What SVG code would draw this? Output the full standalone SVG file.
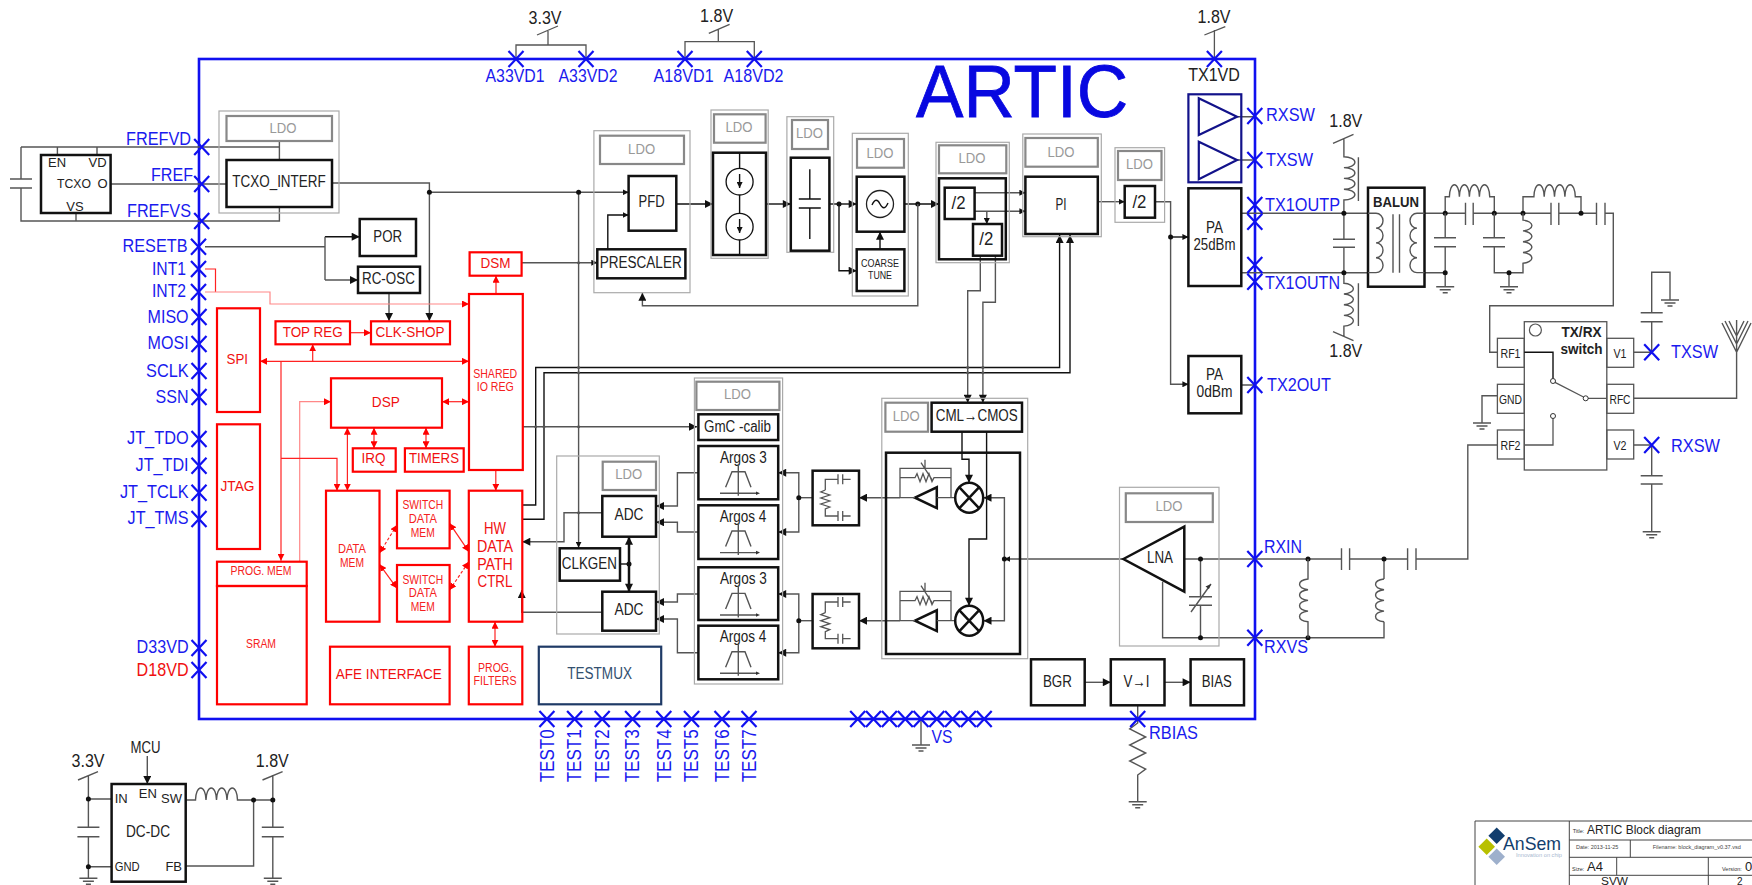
<svg xmlns="http://www.w3.org/2000/svg" width="1752" height="885" viewBox="0 0 1752 885">
<style>
text{font-family:"Liberation Sans",Arial,sans-serif}
.m{text-anchor:middle}.e{text-anchor:end}
.bl{fill:#1a1aee;font-size:18.5px}
.bt{fill:#1a1aee;font-size:21px}
.k{fill:#222;font-size:16px}
.k2{fill:#222;font-size:18px}
.ks{fill:#222;font-size:13px}
.ld{fill:#999;font-size:15.5px}
.r15{fill:#f01010;font-size:15.500px}
.r12{fill:#f52020;font-size:12.500px}
.r17{fill:#f01010;font-size:17px}
.b,.g,.l,.r,.s,.c,.ck,.rl,.rp{fill:none}
.b{stroke:#111;stroke-width:2.5}
.g{stroke:#aaa;stroke-width:1.2}
.l{stroke:#888;stroke-width:2.2}
.r{stroke:#f00;stroke-width:2.2}
.s{stroke:#555;stroke-width:1.3}
.c{stroke:#555;stroke-width:1.4}
.ck{stroke:#111;stroke-width:1.4}
.rl{stroke:#f22;stroke-width:1.2}
.rp{stroke:#f88;stroke-width:1.2}
.x{stroke:#1010f0;stroke-width:2.2;fill:none}
.d{fill:#111}
.tb{stroke:#444;stroke-width:1;fill:none}
</style>
<defs>
<marker id="a" viewBox="0 0 10 10" refX="10" refY="5" markerWidth="9" markerHeight="8" markerUnits="userSpaceOnUse" orient="auto-start-reverse"><path d="M0,0L10,5L0,10z" fill="#111"/></marker>
<marker id="as" viewBox="0 0 10 10" refX="10" refY="5" markerWidth="6" markerHeight="6" markerUnits="userSpaceOnUse" orient="auto-start-reverse"><path d="M0,0L10,5L0,10z" fill="#111"/></marker>
<marker id="ar" viewBox="0 0 10 10" refX="10" refY="5" markerWidth="7" markerHeight="7" markerUnits="userSpaceOnUse" orient="auto-start-reverse"><path d="M0,0L10,5L0,10z" fill="#f00"/></marker>
<g id="x"><path class="x" d="M-7.5,-8L7.5,8M-7.5,8L7.5,-8"/></g>
<g id="gnd"><path class="c" d="M-9,0H9M-5.5,3H5.5M-2.5,6H2.5"/></g>
<g id="filt"><path class="c" d="M720,493.3H756M738.3,464V495.7M725.6,487.3L732,471.7H745L751,487.3" stroke-width="1.2"/><path d="M756,491.5L760,493.3L756,495.1z" fill="#333"/></g>
<g id="rcnet"><path class="s" d="M838,479.3H825.3V490M838,474.3V484.3M842.7,474.3V484.3M842.7,479.3H850.6M825.3,490l-4.500,2 9,3 -9,3 9,3 -9,3 9,3 -4.500,2V516H838M838,511V521M842.7,511V521M842.7,516H850.6"/></g>
<g id="mix"><ellipse cx="0" cy="0" rx="14" ry="15" fill="none" stroke="#111" stroke-width="2.500"/><path class="b" d="M-10,-10.600L10,10.600M-10,10.600L10,-10.600" stroke-width="2"/></g>
<g id="vres"><path class="s" d="M900,0V-29.400H951V0M900,-20H915l2,-4 3,8 3,-8 3,8 3,-8 3,8 2,-4H951M921,-35L932,-18M925,-30V-38"/><path class="b" d="M915,0L936.800,-10.400V10.400Z"/><path class="s" d="M900,0H915M936.800,0H955"/></g>
</defs>

<g id="frame"><rect x="199" y="59" width="1056" height="660" fill="none" stroke="#1010f0" stroke-width="2.600"/></g>

<g id="connectors">
<path class="c" d="M279.400,141V160M21,147H279.400M57.400,147V155M97,147V155M21,147V179M21,188V221H279.400V207M76,213V221M10,179H32M10,188H32M110.600,184H226.500"/>
<path class="c" d="M332,183H429.400V321" marker-end="url(#a)"/>
<path class="c" d="M429.400,192.300H628.600" marker-end="url(#as)"/>
<path class="c" d="M578.600,192.300V547.700" marker-end="url(#as)"/>
<circle class="d" cx="429.400" cy="192.300" r="2.500"/><circle class="d" cx="578.600" cy="192.300" r="2.500"/>
<path class="c" d="M205,246.700H325"/>
<path class="ck" d="M325,236.700H359.700" marker-end="url(#a)"/><path class="c" d="M325,236.700V280"/><path class="c" d="M325,280H358" marker-end="url(#a)"/>
<path class="c" d="M389,293V321" marker-end="url(#a)"/>
<path class="c" d="M521.600,262.700H597.300" marker-end="url(#as)"/>
<path class="rl" d="M205,269H215.500V292"/>
<path class="rp" d="M205,292H270V304H469" marker-end="url(#ar)"/>
<path class="rl" d="M496,294V275.700" marker-end="url(#ar)"/>
<path class="rl" d="M350,332.700H371" marker-end="url(#ar)"/>
<path class="rl" d="M260,361.300H469" marker-start="url(#ar)" marker-end="url(#ar)"/>
<path class="rl" d="M312.700,361.300V344.300" marker-end="url(#ar)"/>
<path class="rl" d="M281,361.300V560.700" marker-end="url(#ar)"/>
<path class="rp" d="M299.700,561V401.700H331" marker-end="url(#ar)"/>
<path class="rl" d="M281,458.300H337V490.700" marker-end="url(#ar)"/>
<path class="rl" d="M347.400,427.700V490.700" marker-start="url(#ar)" marker-end="url(#ar)"/>
<path class="rl" d="M374,427.700V448.300" marker-start="url(#ar)" marker-end="url(#ar)"/>
<path class="rl" d="M426,427.700V448.300" marker-start="url(#ar)" marker-end="url(#ar)"/>
<path class="rl" d="M442,401.700H469" marker-start="url(#ar)" marker-end="url(#ar)"/>
<path class="rl" d="M495.800,470V490.700" marker-end="url(#ar)"/>
<path class="rl" d="M495,621.700V646.700" marker-start="url(#ar)" marker-end="url(#ar)"/>
<path class="rl" d="M379.500,553L397,525" stroke-dasharray="3 2" marker-start="url(#ar)" marker-end="url(#ar)"/>
<path class="rl" d="M379.500,564.300L397,588.300" marker-start="url(#ar)" marker-end="url(#ar)"/>
<path class="rl" d="M449.600,523.300L468.800,551.700" marker-start="url(#ar)" marker-end="url(#ar)"/>
<path class="rl" d="M449.600,590L468.800,561.700" stroke-dasharray="3 2" marker-start="url(#ar)" marker-end="url(#ar)"/>
<path class="ck" d="M522.300,505H535.700V367.500H1059.600V235" marker-end="url(#a)"/>
<path class="ck" d="M522.300,519.300H544V372.700H1070V235" marker-end="url(#a)"/>
<path class="c" d="M522.800,426.700H697" marker-end="url(#a)"/>
<path class="c" d="M602.300,512.700H564V541.700H522.300" marker-end="url(#a)"/>
<path class="c" d="M602.300,612.300H521.700V590" marker-end="url(#a)"/>
<path class="b" d="M629,536.700V591.700" stroke-width="1.800" marker-start="url(#a)" marker-end="url(#a)"/><path class="ck" d="M620,564H629"/><circle class="d" cx="629" cy="564" r="2.500"/>
<path class="c" d="M698.400,472.700H677.400V506H656" stroke-width="1.800" marker-end="url(#a)"/>
<path class="c" d="M698.400,532H677.400V522.300H656" marker-end="url(#a)"/>
<path class="c" d="M698.400,594H677.400V602H656" marker-end="url(#a)"/>
<path class="c" d="M698.400,652.700H677.400V619H656" marker-end="url(#a)"/>
<path class="c" d="M812.600,497.700H798.800"/><path class="c" d="M798.800,497.700V472.700H778.200" marker-end="url(#a)"/><path class="c" d="M798.800,497.700V532H778.200" marker-end="url(#a)"/><circle class="d" cx="798.800" cy="497.700" r="2.500"/>
<path class="c" d="M812.600,620.700H798.800"/><path class="c" d="M798.800,620.700V594H778.200" marker-end="url(#a)"/><path class="c" d="M798.800,620.700V652.700H778.200" marker-end="url(#a)"/><circle class="d" cx="798.800" cy="620.700" r="2.500"/>
<path class="c" d="M900,497.700H859" marker-end="url(#a)"/><path class="c" d="M900,620.700H859" marker-end="url(#a)"/>
<path class="ck" d="M962,431.700V459.300H969V482.700" marker-end="url(#a)"/>
<path class="ck" d="M986.600,431.700V539H969V605.700" marker-end="url(#a)"/>
<path class="c" d="M1123.400,559H1004.400" marker-end="url(#as)"/>
<path class="c" d="M1004.400,559V497.700H983.500" marker-end="url(#a)"/><path class="c" d="M1004.400,559V620.700H983.500" marker-end="url(#a)"/><circle class="d" cx="1004.400" cy="559" r="2.500"/>
<path class="ck" d="M607.800,249.300V215H628.600" marker-end="url(#as)"/>
<path class="ck" d="M676.300,204H713" marker-end="url(#a)"/>
<path class="ck" d="M766,204H790.800" marker-end="url(#a)"/>
<path class="ck" d="M829.400,204H856.700" marker-end="url(#a)"/>
<path class="ck" d="M839,204V270.700H856.700" marker-end="url(#a)"/><circle class="d" cx="839" cy="204" r="2.500"/>
<path class="ck" d="M880,249.300V231.700" marker-end="url(#a)"/>
<path class="ck" d="M904.400,204H939" marker-end="url(#a)"/><circle class="d" cx="917.800" cy="204" r="2.500"/>
<path class="c" d="M917.800,204V305.700H642.400V292.700" marker-end="url(#a)"/>
<path class="c" d="M974.600,192.700H1025.400" marker-end="url(#as)"/>
<path class="c" d="M974.600,211.300H1025.400" marker-end="url(#as)"/>
<path class="c" d="M986.800,211.300V224" marker-end="url(#as)"/>
<path class="c" d="M1097.800,201.700H1124.700" marker-end="url(#as)"/>
<path class="c" d="M980.300,255.700V290.700H967.700V402.700" marker-end="url(#a)"/>
<path class="c" d="M995.400,255.700V302.300H982.900V402.700" marker-end="url(#a)"/>
<path class="c" d="M1155,201.700H1170.600V384.300H1188.400" marker-end="url(#as)"/>
<path class="ck" d="M1170.600,237H1188.400" marker-end="url(#as)"/><circle class="d" cx="1170.600" cy="237" r="2.500"/>
<path class="c" d="M1237,116.700H1255M1237,160H1255M1241.300,213.300H1368M1241.300,272.700H1368M1241.300,385H1255"/>
<g fill="#555"><circle cx="578.600" cy="367.500" r="1.500"/><circle cx="578.600" cy="372.700" r="1.500"/><circle cx="578.600" cy="426.700" r="1.500"/><circle cx="535.700" cy="426.700" r="1.500"/><circle cx="544" cy="426.700" r="1.500"/><circle cx="578.600" cy="512.700" r="1.500"/><circle cx="967.700" cy="367.500" r="1.500"/><circle cx="982.900" cy="367.500" r="1.500"/><circle cx="967.700" cy="372.700" r="1.500"/><circle cx="982.900" cy="372.700" r="1.500"/><circle cx="578.600" cy="262.700" r="1.500"/></g>
<path class="c" d="M1184.300,559H1341.500M1349.600,559H1407.600M1416,559H1467.800V445H1497.400M1200.500,559V596.700M1200.500,605.300V637.700M1162.600,581.700V637.700H1384V621.700M1189,596.700H1212M1189,605.300H1212M1191,612L1211,584M1384,559V579M1341.500,548.300V570M1349.600,548.300V570M1407.600,548.300V570M1416,548.300V570"/>
<path d="M1211,584l-5.500,2.500 3.500,2.500z" fill="#333"/>
<circle class="d" cx="1200.500" cy="559" r="2.500"/><circle class="d" cx="1200.500" cy="637.700" r="2.500"/><circle class="d" cx="1308" cy="559" r="2.500"/><circle class="d" cx="1384" cy="559" r="2.500"/><circle class="d" cx="1308" cy="637.700" r="2.500"/>
<path class="c" d="M1308,559V579a11,5.500 0 0 0 0,10.700a11,5.500 0 0 0 0,10.700a11,5.500 0 0 0 0,10.700a11,5.500 0 0 0 0,10.700V637.700"/>
<path class="c" d="M1384,579a11,5.500 0 0 0 0,10.700a11,5.500 0 0 0 0,10.700a11,5.500 0 0 0 0,10.700a11,5.500 0 0 0 0,10.700"/>
<path class="c" d="M1084.700,682.300H1110.800" marker-end="url(#a)"/><path class="c" d="M1164.500,682.300H1190.600" marker-end="url(#a)"/>
<path class="c" d="M1137.700,705.300V723l-8,6 16,8 -16,8 16,8 -16,8 16,8 -8,6V801.700"/>
<use href="#gnd" x="1137.700" y="801.700"/>
<path class="c" d="M921,719V745"/><use href="#gnd" x="921" y="745"/>
<path class="c" d="M1343.900,213.300V200a11,5.400 0 0 0 0,-10.800a11,5.400 0 0 0 0,-10.800a11,5.400 0 0 0 0,-10.800a11,5.400 0 0 0 0,-10.800V139M1333,143.300L1353.500,134.300M1358.400,157.300V201M1343.900,272.700V283.300a11,5.400 0 0 1 0,10.700a11,5.400 0 0 1 0,10.700a11,5.400 0 0 1 0,10.700a11,5.400 0 0 1 0,10.700V336M1333,331.700L1353.500,340.700M1358.400,283.300V326M1343.900,213.300V239.300M1343.900,247.300V272.700M1333,239.300H1355M1333,247.300H1355"/>
<circle class="d" cx="1343.900" cy="213.300" r="2.500"/><circle class="d" cx="1343.900" cy="272.700" r="2.500"/>
<path class="c" d="M1424.500,213.300H1465.500M1473.200,213.300H1551M1558.800,213.300H1596.500M1605,213.300H1613.300V305.700H1489.700V352.300H1497.400M1465.500,202.700V225M1473.200,202.700V225M1551,202.700V225M1558.800,202.700V225M1596.500,202.700V225M1605,202.700V225"/>
<path class="c" d="M1445.200,213.300V196.700H1449.400a5,12 0 0 1 10,0a5,12 0 0 1 10,0a5,12 0 0 1 10,0a5.150,12 0 0 1 10.300,0H1494.300V213.300"/>
<path class="c" d="M1523,213.300V196.700H1533.900a5.150,12 0 0 1 10.300,0a5.150,12 0 0 1 10.300,0a5.200,12 0 0 1 10.400,0a5.200,12 0 0 1 10.400,0H1581V213.300"/>
<circle class="d" cx="1445.200" cy="213.300" r="2.500"/><circle class="d" cx="1494.300" cy="213.300" r="2.500"/><circle class="d" cx="1523" cy="213.300" r="2.500"/><circle class="d" cx="1581" cy="213.300" r="2.500"/>
<path class="c" d="M1445.200,213.300V237.700M1445.200,246.700V286.700M1434,237.700H1456M1434,246.700H1456M1424.500,272.700H1445.200"/>
<circle class="d" cx="1445.200" cy="272.700" r="2.500"/><use href="#gnd" x="1445.200" y="286.700"/>
<path class="c" d="M1494.300,213.300V237.700M1494.300,246.700V272.700H1523V263.300a11,5.500 0 0 0 0,-10.800a11,5.500 0 0 0 0,-10.800a11,5.500 0 0 0 0,-10.800a11,5.500 0 0 0 0,-10.800V213.300M1483,237.700H1505M1483,246.700H1505M1509,272.700V286.700"/>
<circle class="d" cx="1509" cy="272.700" r="2.500"/><use href="#gnd" x="1509" y="286.700"/>
<path class="c" d="M1633.700,398.300H1736.600V320M1736.600,352.300L1722,323M1736.600,352.300L1751,323M1736.600,344L1725,321M1736.600,344L1748,321M1736.600,336L1729,321M1736.600,336L1744,321"/>
<path class="c" d="M1497.400,395.700H1482V423"/><use href="#gnd" x="1482" y="423"/>
<path class="c" d="M1633.700,352.300H1651.700V321.700M1651.700,312.700V272.300H1670V300M1640.700,312.700H1662.700M1640.700,321.700H1662.700"/><use href="#gnd" x="1670" y="300"/>
<path class="c" d="M1633.700,445H1651.700V475.700M1651.700,484V531.700M1640.700,475.700H1662.700M1640.700,484H1662.700"/><use href="#gnd" x="1651.700" y="531.700"/>
<path class="c" d="M147.300,756V784" marker-end="url(#a)"/>
<path class="c" d="M78,780L98,771.700M88.400,775V827.300M88.400,836.700V878.300M77.400,827.300H99.400M77.400,836.700H99.400M88.400,799H111.600M88.400,866.700H111.600"/>
<circle class="d" cx="88.400" cy="799" r="2.500"/><circle class="d" cx="88.400" cy="866.700" r="2.500"/><use href="#gnd" x="88.400" y="878.300"/>
<path class="c" d="M185.700,800H195.500a5.250,12 0 0 1 10.500,0a5.250,12 0 0 1 10.500,0a5.250,12 0 0 1 10.500,0a5.250,12 0 0 1 10.500,0H272.800M185.700,866H253.600V800M262.500,780L282.600,771.700M272.800,775V827.300M272.800,836.700V878.300M261.800,827.300H283.800M261.800,836.700H283.800"/>
<circle class="d" cx="253.600" cy="800" r="2.500"/><circle class="d" cx="272.800" cy="800" r="2.500"/><use href="#gnd" x="272.800" y="878.300"/>
<path class="s" d="M537,35L558,26M548,31V45M516,59V45H586V59"/>
<path class="s" d="M708.800,33.300L729.600,24.300M718.300,29V41.700M685,59V41.700H754.300V59"/>
<path class="s" d="M1204.400,35L1225.300,26.700M1214.400,30V59"/>
</g>

<g id="pins">
<use href="#x" x="516" y="59"/><use href="#x" x="586" y="59"/><use href="#x" x="685" y="59"/><use href="#x" x="754.300" y="59"/><use href="#x" x="1214.400" y="59"/>
<use href="#x" x="201.700" y="147"/><use href="#x" x="201.700" y="184"/><use href="#x" x="201.700" y="221"/>
<use href="#x" x="198.500" y="246.700"/><use href="#x" x="198.500" y="269"/><use href="#x" x="198.500" y="292"/><use href="#x" x="199" y="317"/><use href="#x" x="199" y="344"/><use href="#x" x="199" y="371"/><use href="#x" x="199" y="397"/><use href="#x" x="199" y="439"/><use href="#x" x="199" y="465.700"/><use href="#x" x="199" y="492.700"/><use href="#x" x="199" y="519"/><use href="#x" x="199" y="648"/><use href="#x" x="199" y="670"/>
<use href="#x" x="1254.800" y="116"/><use href="#x" x="1254.800" y="160"/><use href="#x" x="1254.800" y="205"/><use href="#x" x="1254.800" y="221.700"/><use href="#x" x="1254.800" y="265"/><use href="#x" x="1254.800" y="281.700"/><use href="#x" x="1254.800" y="385"/><use href="#x" x="1254.800" y="559"/><use href="#x" x="1254.800" y="637.700"/>
<use href="#x" x="546.900" y="719"/><use href="#x" x="574.600" y="719"/><use href="#x" x="602.200" y="719"/><use href="#x" x="632.600" y="719"/><use href="#x" x="663.800" y="719"/><use href="#x" x="691.500" y="719"/><use href="#x" x="722" y="719"/><use href="#x" x="749" y="719"/>
<use href="#x" x="857.700" y="719"/><use href="#x" x="873.500" y="719"/><use href="#x" x="889.400" y="719"/><use href="#x" x="905.300" y="719"/><use href="#x" x="921" y="719"/><use href="#x" x="936.800" y="719"/><use href="#x" x="952.600" y="719"/><use href="#x" x="968.400" y="719"/><use href="#x" x="984.200" y="719"/>
<use href="#x" x="1137.700" y="719"/><use href="#x" x="1651.700" y="352.300"/><use href="#x" x="1651.700" y="445"/>
<text class="bl m" x="515" y="82" textLength="59" lengthAdjust="spacingAndGlyphs">A33VD1</text>
<text class="bl m" x="588" y="82" textLength="59" lengthAdjust="spacingAndGlyphs">A33VD2</text>
<text class="bl m" x="683.600" y="82" textLength="60" lengthAdjust="spacingAndGlyphs">A18VD1</text>
<text class="bl m" x="753.500" y="82" textLength="60" lengthAdjust="spacingAndGlyphs">A18VD2</text>
<text class="bl e" x="191" y="145" textLength="65" lengthAdjust="spacingAndGlyphs">FREFVD</text>
<text class="bl e" x="193" y="181" textLength="42" lengthAdjust="spacingAndGlyphs">FREF</text>
<text class="bl e" x="191" y="217" textLength="64" lengthAdjust="spacingAndGlyphs">FREFVS</text>
<text class="bl e" x="187.500" y="251.700" textLength="65" lengthAdjust="spacingAndGlyphs">RESETB</text>
<text class="bl e" x="186" y="275" textLength="34" lengthAdjust="spacingAndGlyphs">INT1</text>
<text class="bl e" x="186" y="297" textLength="34" lengthAdjust="spacingAndGlyphs">INT2</text>
<text class="bl e" x="188.600" y="322.700" textLength="41" lengthAdjust="spacingAndGlyphs">MISO</text>
<text class="bl e" x="188.600" y="349" textLength="41" lengthAdjust="spacingAndGlyphs">MOSI</text>
<text class="bl e" x="188.600" y="376.700" textLength="42.500" lengthAdjust="spacingAndGlyphs">SCLK</text>
<text class="bl e" x="188.600" y="403" textLength="33" lengthAdjust="spacingAndGlyphs">SSN</text>
<text class="bl e" x="188.600" y="444" textLength="61.600" lengthAdjust="spacingAndGlyphs">JT_TDO</text>
<text class="bl e" x="188.600" y="470.700" textLength="53" lengthAdjust="spacingAndGlyphs">JT_TDI</text>
<text class="bl e" x="188.600" y="497.700" textLength="68.700" lengthAdjust="spacingAndGlyphs">JT_TCLK</text>
<text class="bl e" x="188.600" y="524" textLength="61" lengthAdjust="spacingAndGlyphs">JT_TMS</text>
<text class="bl e" x="188.600" y="653" textLength="52" lengthAdjust="spacingAndGlyphs">D33VD</text>
<text class="e" fill="#f01010" font-size="18.500" x="188.600" y="675.700" textLength="52" lengthAdjust="spacingAndGlyphs">D18VD</text>
<text class="bl" x="1266" y="121" textLength="49" lengthAdjust="spacingAndGlyphs">RXSW</text>
<text class="bl" x="1266" y="165.700" textLength="47" lengthAdjust="spacingAndGlyphs">TXSW</text>
<text class="bl" x="1265" y="210.700" textLength="75" lengthAdjust="spacingAndGlyphs">TX1OUTP</text>
<text class="bl" x="1265" y="289" textLength="75" lengthAdjust="spacingAndGlyphs">TX1OUTN</text>
<text class="bl" x="1267" y="390.700" textLength="64" lengthAdjust="spacingAndGlyphs">TX2OUT</text>
<text class="bl" x="1264" y="553" textLength="38" lengthAdjust="spacingAndGlyphs">RXIN</text>
<text class="bl" x="1264" y="653" textLength="44" lengthAdjust="spacingAndGlyphs">RXVS</text>
<text class="bl" x="1149" y="739.300" textLength="49" lengthAdjust="spacingAndGlyphs">RBIAS</text>
<text class="bl" x="931.600" y="743.300" textLength="21" lengthAdjust="spacingAndGlyphs">VS</text>
<text class="bl" x="1671" y="358.300" textLength="47" lengthAdjust="spacingAndGlyphs">TXSW</text>
<text class="bl" x="1671" y="451.700" textLength="49" lengthAdjust="spacingAndGlyphs">RXSW</text>
<text class="bt" transform="translate(553.600,782.300) rotate(-90)" textLength="53" lengthAdjust="spacingAndGlyphs">TEST0</text>
<text class="bt" transform="translate(581.300,782.300) rotate(-90)" textLength="53" lengthAdjust="spacingAndGlyphs">TEST1</text>
<text class="bt" transform="translate(608.900,782.300) rotate(-90)" textLength="53" lengthAdjust="spacingAndGlyphs">TEST2</text>
<text class="bt" transform="translate(639.300,782.300) rotate(-90)" textLength="53" lengthAdjust="spacingAndGlyphs">TEST3</text>
<text class="bt" transform="translate(670.500,782.300) rotate(-90)" textLength="53" lengthAdjust="spacingAndGlyphs">TEST4</text>
<text class="bt" transform="translate(698.200,782.300) rotate(-90)" textLength="53" lengthAdjust="spacingAndGlyphs">TEST5</text>
<text class="bt" transform="translate(728.700,782.300) rotate(-90)" textLength="53" lengthAdjust="spacingAndGlyphs">TEST6</text>
<text class="bt" transform="translate(755.700,782.300) rotate(-90)" textLength="53" lengthAdjust="spacingAndGlyphs">TEST7</text>
<text class="k2 m" x="545" y="24" textLength="33" lengthAdjust="spacingAndGlyphs">3.3V</text>
<text class="k2 m" x="716.600" y="21.700" textLength="33" lengthAdjust="spacingAndGlyphs">1.8V</text>
<text class="k2 m" x="1214" y="23.300" textLength="33" lengthAdjust="spacingAndGlyphs">1.8V</text>
<text class="k2 m" x="1345.800" y="126.700" textLength="33" lengthAdjust="spacingAndGlyphs">1.8V</text>
<text class="k2 m" x="1345.800" y="356.700" textLength="33" lengthAdjust="spacingAndGlyphs">1.8V</text>
<text class="k2 m" x="1214" y="81" textLength="51.600" lengthAdjust="spacingAndGlyphs">TX1VD</text>
<text x="916" y="116.700" fill="#0808e0" stroke="#0808e0" stroke-width="0.800" font-size="74" textLength="212" lengthAdjust="spacingAndGlyphs">ARTIC</text>
</g>

<g id="tcxo-chip"><rect class="b" x="41" y="155" width="69.600" height="58"/>
<text class="ks m" x="57" y="167">EN</text><text class="ks m" x="97.600" y="167">VD</text><text class="ks m" x="74" y="188" textLength="34" lengthAdjust="spacingAndGlyphs">TCXO</text><text class="ks m" x="102.600" y="188">O</text><text class="ks m" x="75" y="211">VS</text></g>

<g id="tcxo-interf"><rect class="g" x="219" y="111" width="120" height="102"/><rect class="l" x="226.500" y="116" width="105.500" height="25"/><text class="ld m" x="283" y="133.300" textLength="27" lengthAdjust="spacingAndGlyphs">LDO</text><rect class="b" x="226.500" y="160" width="105.500" height="47"/><text class="k m" x="279" y="187.300" textLength="93.400" lengthAdjust="spacingAndGlyphs">TCXO_INTERF</text></g>
<g id="por"><rect class="b" x="359.700" y="219" width="56.300" height="37"/><text class="k m" x="387.700" y="241.700" textLength="28.700" lengthAdjust="spacingAndGlyphs">POR</text></g>
<g id="rc-osc"><rect class="b" x="358" y="266.700" width="62" height="26.300"/><text class="k m" x="388.400" y="284" textLength="52.800" lengthAdjust="spacingAndGlyphs">RC-OSC</text></g>

<g id="dsm"><rect class="r" x="469.600" y="252.300" width="52" height="23.400"/><text class="r15 m" x="495.600" y="268" textLength="30" lengthAdjust="spacingAndGlyphs">DSM</text></g>
<g id="shared-io"><rect class="r" x="469" y="294" width="53.800" height="176"/><text class="r12 m" x="495.200" y="377.700" textLength="44" lengthAdjust="spacingAndGlyphs">SHARED</text><text class="r12 m" x="495.200" y="390.700" textLength="37" lengthAdjust="spacingAndGlyphs">IO REG</text></g>
<g id="spi"><rect class="r" x="217" y="308.300" width="43" height="103.700"/><text class="r15 m" x="237.300" y="364.300" textLength="21.500" lengthAdjust="spacingAndGlyphs">SPI</text></g>
<g id="top-reg"><rect class="r" x="275.500" y="321.300" width="74.500" height="23"/><text class="r15 m" x="312.700" y="336.700" textLength="60" lengthAdjust="spacingAndGlyphs">TOP REG</text></g>
<g id="clk-shop"><rect class="r" x="371" y="321.300" width="79" height="23"/><text class="r15 m" x="409.900" y="336.700" textLength="69" lengthAdjust="spacingAndGlyphs">CLK-SHOP</text></g>
<g id="dsp"><rect class="r" x="331" y="378.300" width="111" height="49.400"/><text class="r15 m" x="385.800" y="407.300" textLength="28" lengthAdjust="spacingAndGlyphs">DSP</text></g>
<g id="irq"><rect class="r" x="352.800" y="448.300" width="42.900" height="23.400"/><text class="r15 m" x="373.400" y="463.300" textLength="24" lengthAdjust="spacingAndGlyphs">IRQ</text></g>
<g id="timers"><rect class="r" x="404.900" y="448.300" width="58.800" height="23.400"/><text class="r15 m" x="434" y="463.300" textLength="50" lengthAdjust="spacingAndGlyphs">TIMERS</text></g>
<g id="jtag"><rect class="r" x="217" y="424.300" width="43" height="124.700"/><text class="r15 m" x="237.500" y="490.700" textLength="34" lengthAdjust="spacingAndGlyphs">JTAG</text></g>
<g id="data-mem"><rect class="r" x="326" y="490.700" width="53.500" height="131"/><text class="r12 m" x="352" y="553.300" textLength="28" lengthAdjust="spacingAndGlyphs">DATA</text><text class="r12 m" x="352" y="566.700" textLength="24" lengthAdjust="spacingAndGlyphs">MEM</text></g>
<g id="switch-1"><rect class="r" x="397" y="490.700" width="52.600" height="57.600"/><text class="r12 m" x="422.800" y="509.300" textLength="40.600" lengthAdjust="spacingAndGlyphs">SWITCH</text><text class="r12 m" x="422.800" y="522.700" textLength="28" lengthAdjust="spacingAndGlyphs">DATA</text><text class="r12 m" x="422.800" y="536.700" textLength="24" lengthAdjust="spacingAndGlyphs">MEM</text></g>
<g id="switch-2"><rect class="r" x="397" y="565" width="52.600" height="56.700"/><text class="r12 m" x="422.800" y="583.700" textLength="40.600" lengthAdjust="spacingAndGlyphs">SWITCH</text><text class="r12 m" x="422.800" y="597.300" textLength="28" lengthAdjust="spacingAndGlyphs">DATA</text><text class="r12 m" x="422.800" y="610.700" textLength="24" lengthAdjust="spacingAndGlyphs">MEM</text></g>
<g id="hw-ctrl"><rect class="r" x="468.800" y="490.700" width="53.500" height="131"/><text class="r17 m" x="495" y="534.300" textLength="22" lengthAdjust="spacingAndGlyphs">HW</text><text class="r17 m" x="495" y="552" textLength="36" lengthAdjust="spacingAndGlyphs">DATA</text><text class="r17 m" x="495" y="569.700" textLength="35.700" lengthAdjust="spacingAndGlyphs">PATH</text><text class="r17 m" x="495" y="587" textLength="35" lengthAdjust="spacingAndGlyphs">CTRL</text></g>
<g id="prog-filters"><rect class="r" x="468.800" y="646.700" width="53.500" height="57.600"/><text class="r12 m" x="495" y="671.700" textLength="34" lengthAdjust="spacingAndGlyphs">PROG.</text><text class="r12 m" x="495" y="685" textLength="43" lengthAdjust="spacingAndGlyphs">FILTERS</text></g>
<g id="afe"><rect class="r" x="330" y="646.700" width="119.600" height="57.600"/><text class="r15 m" x="388.800" y="679.300" textLength="106" lengthAdjust="spacingAndGlyphs">AFE INTERFACE</text></g>
<g id="prog-mem"><rect class="r" x="217" y="561.700" width="89.700" height="24.300"/><text class="r12 m" x="261" y="575" textLength="61" lengthAdjust="spacingAndGlyphs">PROG. MEM</text></g>
<g id="sram"><rect class="r" x="217" y="586" width="89.700" height="118.300"/><text class="r12 m" x="261" y="648.300" textLength="30" lengthAdjust="spacingAndGlyphs">SRAM</text></g>
<g id="testmux"><rect x="538.800" y="646.700" width="122.400" height="57.600" fill="none" stroke="#1f3a66" stroke-width="2.200"/><text class="m" fill="#33506f" font-size="16" x="599.600" y="679" textLength="64.700" lengthAdjust="spacingAndGlyphs">TESTMUX</text></g>

<g id="adc-block"><rect class="g" x="556.700" y="456" width="102.600" height="178"/><rect class="l" x="602.700" y="461.700" width="53.300" height="28.300"/><text class="ld m" x="628.700" y="479.300" textLength="27" lengthAdjust="spacingAndGlyphs">LDO</text>
<rect class="b" x="602.300" y="496" width="53.700" height="40.700"/><text class="k m" x="629" y="520" textLength="29" lengthAdjust="spacingAndGlyphs">ADC</text>
<rect class="b" x="602.300" y="591.700" width="53.700" height="39"/><text class="k m" x="629" y="615" textLength="29" lengthAdjust="spacingAndGlyphs">ADC</text>
<rect class="b" x="559.700" y="548.300" width="60.300" height="32.400"/><text class="k m" x="589.300" y="569" textLength="55" lengthAdjust="spacingAndGlyphs">CLKGEN</text></g>

<g id="filters"><rect class="g" x="694.400" y="378" width="88.200" height="306"/><rect class="l" x="696.400" y="381.700" width="83" height="28.300"/><text class="ld m" x="737.500" y="399.300" textLength="27" lengthAdjust="spacingAndGlyphs">LDO</text>
<rect class="b" x="698.400" y="414.300" width="79.800" height="25.700"/><text class="k m" x="737.500" y="431.700" textLength="67" lengthAdjust="spacingAndGlyphs">GmC -calib</text>
<rect class="b" x="698.400" y="446" width="79.800" height="53.300"/><text class="k m" x="743.400" y="462.700" textLength="46.700" lengthAdjust="spacingAndGlyphs">Argos 3</text><use href="#filt"/>
<rect class="b" x="698.400" y="505.300" width="79.800" height="53.700"/><text class="k m" x="743" y="522" textLength="46.700" lengthAdjust="spacingAndGlyphs">Argos 4</text><use href="#filt" y="59.300"/>
<rect class="b" x="698.400" y="567.300" width="79.800" height="52.700"/><text class="k m" x="743.400" y="584.300" textLength="46.700" lengthAdjust="spacingAndGlyphs">Argos 3</text><use href="#filt" y="121.700"/>
<rect class="b" x="698.400" y="625.700" width="79.800" height="53.600"/><text class="k m" x="743" y="642.300" textLength="46.700" lengthAdjust="spacingAndGlyphs">Argos 4</text><use href="#filt" y="180"/></g>

<g id="rc-net-1"><rect class="b" x="812.600" y="470.700" width="46.400" height="54.600"/><use href="#rcnet"/></g>
<g id="rc-net-2"><rect class="b" x="812.600" y="594" width="46.400" height="54.300"/><use href="#rcnet" y="122.700"/></g>

<g id="mixer-block"><rect class="g" x="881.800" y="398.300" width="145.900" height="260.400"/><rect class="l" x="885.400" y="402.700" width="42.600" height="29"/><text class="ld m" x="906.300" y="420.700" textLength="27" lengthAdjust="spacingAndGlyphs">LDO</text>
<rect class="b" x="931.600" y="402.700" width="90.400" height="29"/><text class="k m" x="976.700" y="421" textLength="82" lengthAdjust="spacingAndGlyphs">CML→CMOS</text>
<rect class="b" x="886" y="452.700" width="134" height="201.300"/>
<use href="#vres" y="497.700"/><use href="#vres" y="620.700"/><use href="#mix" x="969.200" y="497.700"/><use href="#mix" x="969.200" y="620.700"/></g>

<g id="lna-block"><rect class="g" x="1119.500" y="487.300" width="99.500" height="158.700"/><rect class="l" x="1125.800" y="493.300" width="87" height="28.700"/><text class="ld m" x="1169" y="511" textLength="27" lengthAdjust="spacingAndGlyphs">LDO</text>
<path class="b" d="M1123.400,559L1184.300,526.700V591.700Z"/><text class="k m" x="1160" y="563.300" textLength="26" lengthAdjust="spacingAndGlyphs">LNA</text></g>

<g id="bgr"><rect class="b" x="1031" y="659.300" width="53.700" height="46"/><text class="k m" x="1057.400" y="686.700" textLength="29" lengthAdjust="spacingAndGlyphs">BGR</text></g>
<g id="v-i"><rect class="b" x="1110.800" y="659.300" width="53.700" height="46"/><text class="k m" x="1136.500" y="686.700" textLength="26" lengthAdjust="spacingAndGlyphs">V→I</text></g>
<g id="bias"><rect class="b" x="1190.600" y="659.300" width="53.400" height="46"/><text class="k m" x="1216.700" y="686.700" textLength="30" lengthAdjust="spacingAndGlyphs">BIAS</text></g>

<g id="pfd-block"><rect class="g" x="593.900" y="130.700" width="96.100" height="162"/><rect class="l" x="600" y="135.700" width="84" height="28.300"/><text class="ld m" x="641.600" y="154.300" textLength="27" lengthAdjust="spacingAndGlyphs">LDO</text>
<rect class="b" x="628.600" y="176" width="47.700" height="54.700"/><text class="k m" x="651.600" y="207.300" textLength="26" lengthAdjust="spacingAndGlyphs">PFD</text>
<rect class="b" x="597.300" y="249.300" width="88.100" height="29"/><text class="k m" x="640.700" y="268.300" textLength="82" lengthAdjust="spacingAndGlyphs">PRESCALER</text></g>
<g id="charge-pump"><rect class="g" x="711" y="110" width="57.200" height="148.300"/><rect class="l" x="714" y="114.300" width="51.600" height="28.400"/><text class="ld m" x="739" y="131.700" textLength="27" lengthAdjust="spacingAndGlyphs">LDO</text>
<rect class="b" x="713" y="152.700" width="53" height="102.300"/><path class="ck" d="M739.600,152.700V168.400M739.600,195V213.400M739.600,240V255"/><path class="ck" d="M739.600,174V188" marker-end="url(#as)"/><path class="ck" d="M739.600,219V233" marker-end="url(#as)"/><ellipse cx="739.600" cy="181.700" rx="13.500" ry="13.300" fill="none" stroke="#111" stroke-width="1.300"/><ellipse cx="739.600" cy="226.700" rx="13.500" ry="13.300" fill="none" stroke="#111" stroke-width="1.300"/></g>
<g id="loop-filter"><rect class="g" x="786.900" y="116.700" width="46.800" height="135.600"/><rect class="l" x="792" y="120" width="36" height="29"/><text class="ld m" x="809.400" y="138.300" textLength="27" lengthAdjust="spacingAndGlyphs">LDO</text>
<rect class="b" x="790.800" y="157.700" width="38.600" height="93"/><path class="ck" d="M809.800,169.300V199M809.800,208V239M798.800,199H820.800M798.800,208H820.800"/></g>
<g id="vco"><rect class="g" x="852.300" y="133.300" width="56" height="162.700"/><rect class="l" x="857" y="139" width="47" height="28.700"/><text class="ld m" x="880" y="157.700" textLength="27" lengthAdjust="spacingAndGlyphs">LDO</text>
<rect class="b" x="856.700" y="176.700" width="47.700" height="55"/><circle cx="880" cy="204" r="13.500" fill="none" stroke="#222" stroke-width="1.300"/><path class="ck" d="M872,205q4,-9 8,-1t8,-1"/>
<rect class="b" x="856.700" y="249.300" width="47.700" height="41.700"/><text class="m" fill="#222" font-size="10.500" x="880" y="267.300" textLength="38" lengthAdjust="spacingAndGlyphs">COARSE</text><text class="m" fill="#222" font-size="10.500" x="880" y="278.700" textLength="24" lengthAdjust="spacingAndGlyphs">TUNE</text></g>
<g id="dividers"><rect class="g" x="936" y="142.300" width="73.300" height="120.400"/><rect class="l" x="939" y="145.300" width="67.300" height="28"/><text class="ld m" x="972" y="163.300" textLength="27" lengthAdjust="spacingAndGlyphs">LDO</text>
<rect class="b" x="939" y="178.300" width="66.800" height="81"/><rect class="b" x="944.700" y="187.700" width="29.900" height="31.300"/><text class="k2 m" x="958.600" y="209.300" textLength="14" lengthAdjust="spacingAndGlyphs">/2</text><rect class="b" x="973" y="224" width="29" height="31.700"/><text class="k2 m" x="986.300" y="245" textLength="14" lengthAdjust="spacingAndGlyphs">/2</text></g>
<g id="pi"><rect class="g" x="1022.800" y="134" width="78.500" height="102.700"/><rect class="l" x="1025.400" y="138" width="72.400" height="28.700"/><text class="ld m" x="1061" y="156.700" textLength="27" lengthAdjust="spacingAndGlyphs">LDO</text>
<rect class="b" x="1025.400" y="176.700" width="72.400" height="57.300"/><text class="k m" x="1061" y="210" textLength="11" lengthAdjust="spacingAndGlyphs">PI</text></g>
<g id="div-out"><rect class="g" x="1115" y="147.700" width="49.600" height="74.600"/><rect class="l" x="1118" y="151" width="43.500" height="29"/><text class="ld m" x="1139.400" y="169" textLength="27" lengthAdjust="spacingAndGlyphs">LDO</text>
<rect class="b" x="1124.700" y="186" width="30.300" height="31.700"/><text class="k2 m" x="1139.400" y="207.700" textLength="14" lengthAdjust="spacingAndGlyphs">/2</text></g>

<g id="switch-buffers"><rect x="1188.400" y="94.300" width="52.900" height="88" fill="none" stroke="#12128a" stroke-width="2.200"/><path d="M1198.800,98.300L1237,116.700L1198.800,135ZM1198.800,141.700L1237,160L1198.800,179.300Z" fill="none" stroke="#12128a" stroke-width="2.200"/></g>
<g id="pa-25"><rect class="b" x="1188.400" y="188.300" width="52.900" height="97.700"/><text class="k m" x="1214.500" y="232.700" textLength="17" lengthAdjust="spacingAndGlyphs">PA</text><text class="k m" x="1214.500" y="250" textLength="42" lengthAdjust="spacingAndGlyphs">25dBm</text></g>
<g id="pa-0"><rect class="b" x="1188.400" y="356" width="52.900" height="57.300"/><text class="k m" x="1214.500" y="380" textLength="17" lengthAdjust="spacingAndGlyphs">PA</text><text class="k m" x="1214.500" y="397.300" textLength="36" lengthAdjust="spacingAndGlyphs">0dBm</text></g>
<g id="balun"><rect class="b" x="1368" y="187.700" width="56.500" height="99"/><text class="m" fill="#222" font-size="14" font-weight="bold" x="1396" y="206.700" textLength="46" lengthAdjust="spacingAndGlyphs">BALUN</text>
<path class="c" d="M1368,213.300H1376a7,7.400 0 0 1 0,14.800a7,7.400 0 0 1 0,14.800a7,7.400 0 0 1 0,14.800a7,7.400 0 0 1 0,14.900H1368M1424.500,213.300H1417a7,7.400 0 0 0 0,14.800a7,7.400 0 0 0 0,14.800a7,7.400 0 0 0 0,14.800a7,7.400 0 0 0 0,14.900H1424.500M1393,214.300V272.700M1399.500,214.300V272.700"/></g>

<g id="rf-switch"><rect class="s" x="1524.300" y="321.700" width="82.500" height="148.300"/><circle cx="1535.400" cy="330" r="6" fill="none" stroke="#555" stroke-width="1.200"/>
<text class="m" fill="#222" font-size="14" font-weight="bold" x="1581.500" y="336.700" textLength="40" lengthAdjust="spacingAndGlyphs">TX/RX</text><text class="m" fill="#222" font-size="14" font-weight="bold" x="1581.500" y="354" textLength="42" lengthAdjust="spacingAndGlyphs">switch</text>
<rect class="s" x="1497.400" y="338.300" width="26.900" height="29"/><rect class="s" x="1497.400" y="384.300" width="26.900" height="29"/><rect class="s" x="1497.400" y="430" width="26.900" height="29"/><rect class="s" x="1606.800" y="338.300" width="26.900" height="29"/><rect class="s" x="1606.800" y="384.300" width="26.900" height="29"/><rect class="s" x="1606.800" y="430" width="26.900" height="29"/>
<text class="ks m" x="1510.500" y="357.500" textLength="20" lengthAdjust="spacingAndGlyphs">RF1</text><text class="ks m" x="1510.500" y="403.500" textLength="23" lengthAdjust="spacingAndGlyphs">GND</text><text class="ks m" x="1510.500" y="449.500" textLength="20" lengthAdjust="spacingAndGlyphs">RF2</text><text class="ks m" x="1620" y="357.500" textLength="13" lengthAdjust="spacingAndGlyphs">V1</text><text class="ks m" x="1620" y="403.500" textLength="21" lengthAdjust="spacingAndGlyphs">RFC</text><text class="ks m" x="1620" y="449.500" textLength="13" lengthAdjust="spacingAndGlyphs">V2</text>
<path class="ck" d="M1524.300,352.300H1553V378.500"/><path class="s" d="M1555,382.300L1583.500,397M1588,398.300H1606.800M1553,418.500V445H1524.300"/><circle cx="1553" cy="381" r="2.500" fill="none" stroke="#333"/><circle cx="1585.700" cy="398.300" r="2.500" fill="none" stroke="#333"/><circle cx="1553" cy="416" r="2.500" fill="none" stroke="#333"/></g>

<g id="dc-dc"><rect class="b" x="111.600" y="784" width="74.100" height="97.700"/><text class="ks" x="114.700" y="803.300">IN</text><text class="ks m" x="147.800" y="797.700">EN</text><text class="ks e" x="182" y="803.300">SW</text><text class="k m" x="148" y="837.300" textLength="44" lengthAdjust="spacingAndGlyphs">DC-DC</text><text class="ks" x="114.700" y="870.700" textLength="25" lengthAdjust="spacingAndGlyphs">GND</text><text class="ks e" x="182" y="870.700">FB</text>
<text class="k m" x="145.500" y="753.300" textLength="30" lengthAdjust="spacingAndGlyphs">MCU</text><text class="k2 m" x="88" y="767.300" textLength="33" lengthAdjust="spacingAndGlyphs">3.3V</text><text class="k2 m" x="272.300" y="767.300" textLength="33" lengthAdjust="spacingAndGlyphs">1.8V</text></g>

<g id="title-block"><path class="tb" d="M1475,885V821H1752M1569.300,821V885M1569.300,840H1752M1569.300,857.300H1752M1569.300,875.300H1752M1630.300,840V857.300M1616.700,857.300V875.300M1708.300,857.300V885"/>
<path d="M1496.700,827.500l8.300,8.200 -8.300,8.200 -8.300,-8.200z" fill="#123e6e"/><path d="M1486.700,838.500l8.300,8.200 -8.300,8.200 -8.300,-8.200z" fill="#b8c000"/><path d="M1496.700,848.500l8.300,8.200 -8.300,8.200 -8.300,-8.200z" fill="#9eb0cc"/>
<text x="1503" y="850" fill="#123e6e" font-size="19" font-family="'DejaVu Sans',sans-serif" textLength="58" lengthAdjust="spacingAndGlyphs">AnSem</text><text x="1516" y="857" fill="#a8b8d0" font-size="6" textLength="46" lengthAdjust="spacingAndGlyphs">Innovation on chip</text>
<text x="1572.700" y="833" fill="#333" font-size="5.500">Title:</text><text x="1587" y="834.300" fill="#222" font-size="13" textLength="114" lengthAdjust="spacingAndGlyphs">ARTIC Block diagram</text>
<text x="1576" y="849.300" fill="#444" font-size="5.500">Date: 2013-11-25</text><text x="1652.700" y="849.300" fill="#444" font-size="5.500">Filename: block_diagram_v0.37.vsd</text>
<text x="1572" y="871" fill="#333" font-size="5.500">Size:</text><text x="1587" y="871" fill="#222" font-size="13">A4</text><text x="1722" y="871" fill="#333" font-size="5.500">Version:</text><text x="1745" y="871" fill="#222" font-size="13">0</text>
<text x="1601" y="884.500" fill="#222" font-size="10" textLength="27" lengthAdjust="spacingAndGlyphs">SVW</text><text x="1737" y="884.500" fill="#222" font-size="10">2</text></g>
</svg>
